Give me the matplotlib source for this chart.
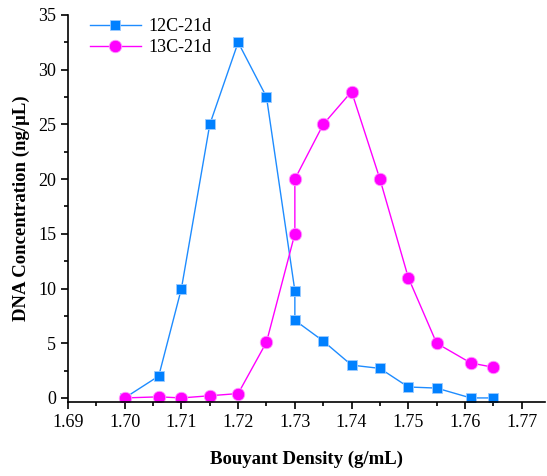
import matplotlib
matplotlib.use("Agg")
import matplotlib.pyplot as plt
from matplotlib.ticker import MultipleLocator

plt.rcParams['font.family'] = ['Liberation Serif', 'DejaVu Serif']

# 12C-21d
x12 = [1.700, 1.706, 1.710, 1.715, 1.720, 1.725, 1.730, 1.730, 1.735, 1.740, 1.745, 1.750, 1.755, 1.761, 1.765]
y12 = [0.0, 2.0, 10.0, 25.0, 32.5, 27.5, 9.8, 7.1, 5.2, 3.0, 2.7, 1.0, 0.9, 0.0, 0.0]
# 13C-21d
x13 = [1.700, 1.706, 1.710, 1.715, 1.720, 1.725, 1.730, 1.730, 1.735, 1.740, 1.745, 1.750, 1.755, 1.761, 1.765]
y13 = [0.0, 0.1, 0.0, 0.2, 0.4, 5.1, 15.0, 20.0, 25.0, 28.0, 20.0, 11.0, 5.0, 3.2, 2.8]

fig = plt.figure(figsize=(5.47, 4.76), dpi=100)
ax = fig.add_axes([0.1243, 0.1555, 0.872, 0.813])

ax.plot(x12, y12, '-s', color='#1E8CFF', mfc='#0080FF', mec='#9CCBFF', mew=0.6,
        ms=7.5, lw=1.0, label='12C-21d')
ax.plot(x13, y13, '-o', color='#FF00FF', mfc='#FF00FF', mec='#FF9CFF', mew=0.6,
        ms=9, lw=1.0, label='13C-21d')

ax.set_xlim(1.69, 1.7741)
ax.set_ylim(-0.37, 35)
ax.xaxis.set_major_locator(MultipleLocator(0.01))
ax.xaxis.set_minor_locator(MultipleLocator(0.005))
ax.yaxis.set_major_locator(MultipleLocator(5))
ax.yaxis.set_minor_locator(MultipleLocator(2.5))
ax.xaxis.set_major_formatter(plt.FormatStrFormatter('%.2f'))

for s in ['top', 'right']:
    ax.spines[s].set_visible(False)
for s in ['left', 'bottom']:
    ax.spines[s].set_linewidth(1.2)
ax.tick_params(which='major', direction='out', length=5, width=1.2, labelsize=13)
ax.tick_params(which='minor', direction='out', length=3, width=1.2)

ax.set_xlabel('Bouyant Density (g/mL)', fontsize=13.5, fontweight='bold', labelpad=14)
ax.set_ylabel('DNA Concentration (ng/\u03bcL)', fontsize=13.5, fontweight='bold', labelpad=6)

ax.legend(loc='upper left', bbox_to_anchor=(0.02, 1.025), frameon=False, fontsize=13,
          handlelength=2.8, handletextpad=0.4, borderaxespad=0.3, labelspacing=0.25)

fig.savefig('out.png', dpi=100)
